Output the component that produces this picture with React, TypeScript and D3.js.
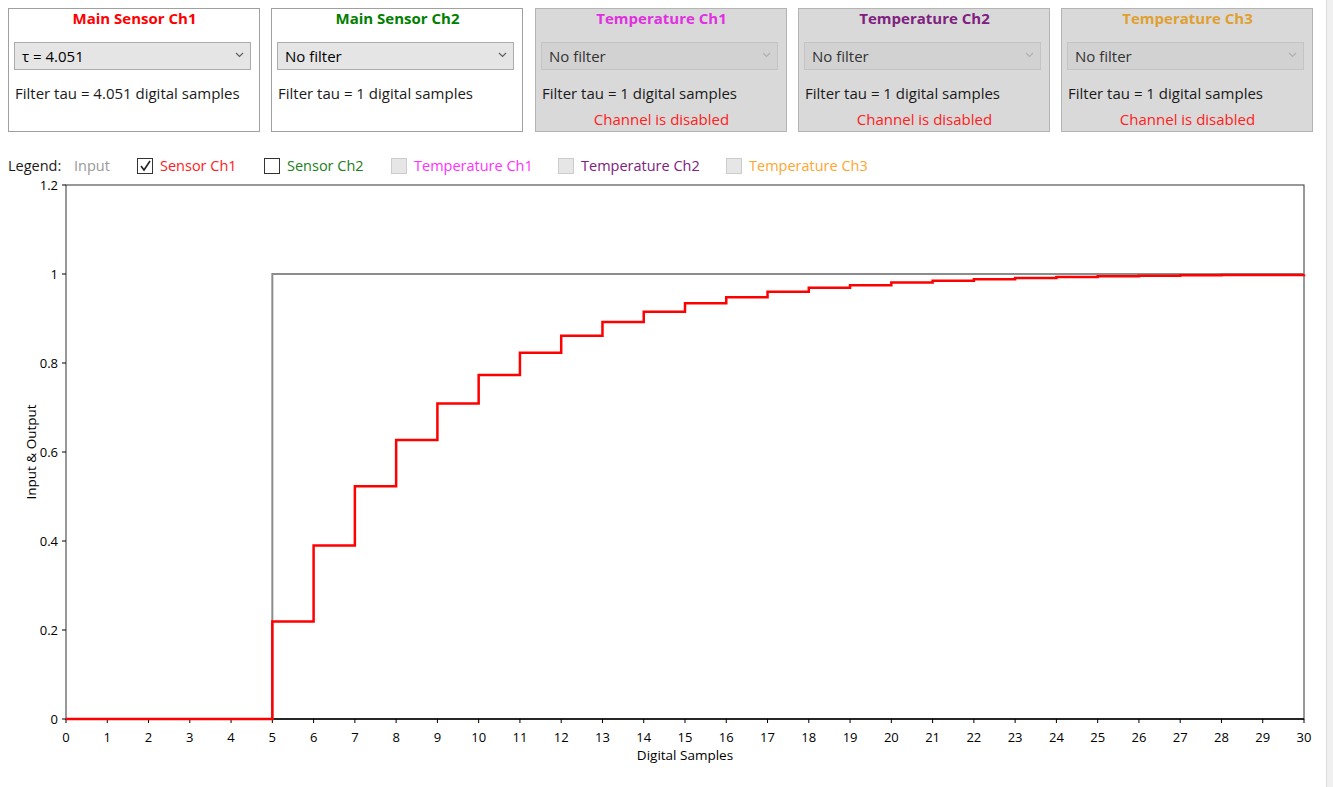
import React from "react";
import * as d3 from "d3";

// ---- Data ----
const sampleIndex = [0,1,2,3,4,5,6,7,8,9,10,11,12,13,14,15,16,17,18,19,20,21,22,23,24,25,26,27,28,29,30];
const inputSignal = [0,0,0,0,0,1,1,1,1,1,1,1,1,1,1,1,1,1,1,1,1,1,1,1,1,1,1,1,1,1,1];
const sensorCh1 = [0,0,0,0,0,0.219,0.390,0.523,0.627,0.709,0.773,0.823,0.861,0.892,0.915,0.934,0.948,0.960,0.969,0.975,0.981,0.985,0.988,0.991,0.993,0.995,0.996,0.997,0.998,0.998,0.999];
const xTicks = sampleIndex;
const yTicks = [0, 0.2, 0.4, 0.6, 0.8, 1, 1.2];

const panelTitles = ["Main Sensor Ch1", "Main Sensor Ch2", "Temperature Ch1", "Temperature Ch2", "Temperature Ch3"];
const panelTitleColors = ["#ff0000", "#008000", "#e030e0", "#802080", "#e0a030"];
const panelSelections = ["τ = 4.051", "No filter", "No filter", "No filter", "No filter"];
const panelTauText = ["Filter tau = 4.051 digital samples", "Filter tau = 1 digital samples", "Filter tau = 1 digital samples", "Filter tau = 1 digital samples", "Filter tau = 1 digital samples"];
const panelEnabled = [true, true, false, false, false];

const legendLabels = ["Sensor Ch1", "Sensor Ch2", "Temperature Ch1", "Temperature Ch2", "Temperature Ch3"];
const legendColors = ["#ff2020", "#208020", "#ff30ff", "#802080", "#ffa530"];
const legendState = ["checked", "unchecked", "disabled", "disabled", "disabled"];

const FONT = "'Open Sans', 'Noto Sans', sans-serif";

export default function App() {
  const W = 1333, H = 787;
  const plot = { left: 66, right: 1304, top: 185, bottom: 719 };
  const x = d3.scaleLinear().domain([0, 30]).range([plot.left, plot.right]);
  const y = d3.scaleLinear().domain([0, 1.2]).range([plot.bottom, plot.top]);
  const line = d3.line<number>()
    .x((_, i) => x(sampleIndex[i]))
    .y((d) => y(d))
    .curve(d3.curveStepAfter);

  const pitch = 263.3, pw = 251, ph = 123, py = 8;
  const legendX = [137, 264, 391, 558, 726];

  return (
    <svg width={W} height={H} style={{ position: "absolute", left: 0, top: 0, background: "#fff" }} fontFamily={FONT}>
      <rect x={0} y={0} width={W} height={H} fill="#ffffff" />
      {/* right scroll strip */}
      <rect x={1326} y={0} width={7} height={H} fill="#f0f0f0" />
      <line x1={1326.5} x2={1326.5} y1={0} y2={H} stroke="#dcdcdc" />

      {/* panels */}
      {panelTitles.map((t, i) => {
        const px = Math.round(8 + i * pitch);
        const en = panelEnabled[i];
        return (
          <g key={t}>
            <rect x={px + 0.5} y={py + 0.5} width={pw} height={ph} fill={en ? "#ffffff" : "#d9d9d9"} stroke={en ? "#a0a0a0" : "#b4b4b4"} />
            <text x={px + pw / 2 + 1} y={py + 16} textAnchor="middle" fontWeight="bold" fontSize={15} fill={panelTitleColors[i]}>{t}</text>
            <rect x={px + 6.5} y={42.5} width={236} height={27} fill={en ? "#e5e5e5" : "#d2d2d2"} stroke={en ? "#acacac" : "#c4c4c4"} />
            <text x={px + 14} y={62} fontSize={15} fill={en ? "#000" : "#333"}>{panelSelections[i]}</text>
            <path d={`M${px + 228},${53} l3.5,3.5 l3.5,-3.5`} fill="none" stroke={en ? "#606060" : "#b0b0b0"} strokeWidth={1.2} />
            <text x={px + 7} y={99} fontSize={15} fill="#1a1a1a">{panelTauText[i]}</text>
            {!en && (
              <text x={px + pw / 2 + 1} y={125} textAnchor="middle" fontSize={15} fill="#ff2020">Channel is disabled</text>
            )}
          </g>
        );
      })}

      {/* legend */}
      <text x={8} y={171} fontSize={14.5} fill="#1a1a1a">Legend:</text>
      <text x={74} y={171} fontSize={14.5} fill="#999999">Input</text>
      {legendLabels.map((l, i) => {
        const lx = legendX[i];
        const st = legendState[i];
        return (
          <g key={l}>
            <rect x={lx + 0.5} y={158.5} width={15} height={15}
              fill={st === "disabled" ? "#e6e6e6" : "#ffffff"}
              stroke={st === "disabled" ? "#cccccc" : "#333333"} />
            {st === "checked" && (
              <path d={`M${lx + 4},${166} l3,4 l6,-9`} fill="none" stroke="#222" strokeWidth={1.6} />
            )}
            <text x={lx + 23} y={171} fontSize={14.5} fill={legendColors[i]}>{l}</text>
          </g>
        );
      })}

      {/* plot frame */}
      <rect x={plot.left} y={plot.top} width={plot.right - plot.left} height={plot.bottom - plot.top} fill="#ffffff" stroke="#333" strokeWidth={1} />
      <line x1={plot.left} x2={plot.right} y1={plot.bottom} y2={plot.bottom} stroke="#000" strokeWidth={1.5} />

      {/* x ticks */}
      {xTicks.map((t) => (
        <g key={"x" + t}>
          <line x1={x(t)} x2={x(t)} y1={plot.bottom} y2={plot.bottom + 4} stroke="#000" />
          <text x={x(t)} y={742} textAnchor="middle" fontSize={13} fill="#000">{t}</text>
        </g>
      ))}
      <text x={(plot.left + plot.right) / 2} y={760} textAnchor="middle" fontSize={13.5} fill="#000">Digital Samples</text>

      {/* y ticks */}
      {yTicks.map((t) => (
        <g key={"y" + t}>
          <line x1={plot.left - 4} x2={plot.left} y1={y(t)} y2={y(t)} stroke="#000" />
          <text x={plot.left - 8} y={y(t) + 4.5} textAnchor="end" fontSize={13} fill="#000">{d3.format("~g")(t)}</text>
        </g>
      ))}
      <text transform={`translate(36,${(plot.top + plot.bottom) / 2 + 0}) rotate(-90)`} textAnchor="middle" fontSize={13.5} fill="#000">Input &amp; Output</text>

      {/* series */}
      <path d={line(inputSignal) || ""} fill="none" stroke="#8c8c8c" strokeWidth={2} />
      <path d={line(sensorCh1) || ""} fill="none" stroke="#ff0000" strokeWidth={2.5} />
    </svg>
  );
}
